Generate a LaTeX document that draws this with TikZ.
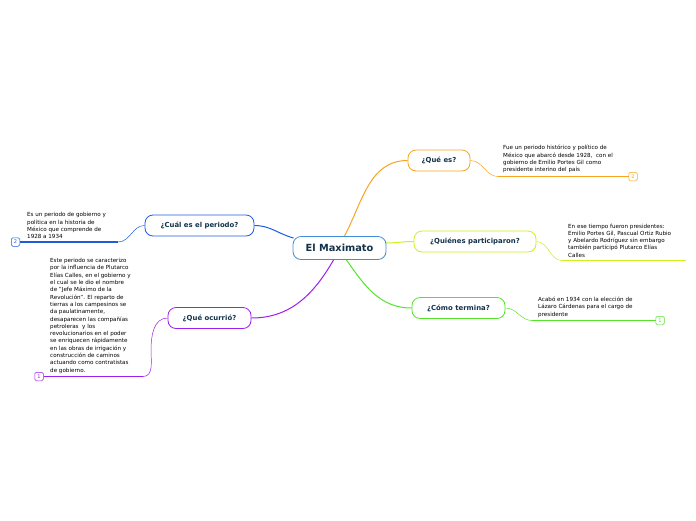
\documentclass[tikz,border=0pt]{standalone}
\usepackage{fontspec}
\setmainfont{DejaVu Sans}
\usetikzlibrary{positioning}
\definecolor{corange}{HTML}{F7A51E}
\definecolor{cyellow}{HTML}{CFEF1E}
\definecolor{cgreen}{HTML}{55E22A}
\definecolor{cblue}{HTML}{1F5BE0}
\definecolor{cpurple}{HTML}{9E1EEC}
\definecolor{cmain}{HTML}{3F8FD6}
\definecolor{ctitle}{HTML}{13324A}
\tikzset{
    maintopic/.style={draw=cmain, line width=0.8pt, fill=white, rounded corners=8pt,
        minimum width=93pt, minimum height=23pt, text=ctitle,
        font=\fontsize{9.8}{11}\selectfont\bfseries},
    topic/.style={draw=#1, line width=0.8pt, fill=white, rounded corners=8pt,
        minimum height=21pt, inner xsep=9pt, text=ctitle,
        font=\fontsize{6.9}{8}\selectfont\bfseries},
    leaf/.style={align=left, inner sep=0pt, text=black,
        font=\fontsize{5.6}{7.3}\selectfont},
    numbox/.style={draw=#1, fill=white, rounded corners=1.5pt, line width=0.5pt,
        minimum size=8.5pt, inner sep=0pt, text=#1, font=\fontsize{5}{5}\selectfont},
    underline/.style={#1, line width=1.6pt},
    link/.style={#1, line width=1pt},
}
\begin{document}
\begin{tikzpicture}[x=1pt,y=-1pt]
    \useasboundingbox (0,0) rectangle (696,520);
    % branches
    \node[topic=corange, minimum width=62pt] (quees) at (439,160.5) {¿Qué es?};
    \node[topic=cyellow, minimum width=122pt] (quienes) at (475,241.5) {¿Quiénes participaron?};
    \node[topic=cgreen, minimum width=93pt] (termina) at (458.5,308) {¿Cómo termina?};
    \node[topic=cblue, minimum width=109pt] (periodo) at (199.5,225.5) {¿Cuál es el periodo?};
    \node[topic=cpurple, minimum width=83pt] (ocurrio) at (209.5,318) {¿Qué ocurrió?};
    \coordinate (mainc) at (339.5,248);
    % links from main
    \draw[link=corange] (mainc) ++(5,-12) coordinate (mo) to[out=62,in=180] (quees.west);
    \draw[link=cyellow] (mainc) ++(46,-5) coordinate (my) to[out=0,in=180] (quienes.west);
    \draw[link=cgreen] (mainc) ++(7,12) coordinate (mg) to[out=-55,in=180] (termina.west);
    \draw[link=cblue] (mainc) ++(-46,-10) coordinate (mb) to[out=165,in=0] (periodo.east);
    \draw[link=cpurple] (mainc) ++(-6,12) coordinate (mp) to[out=-120,in=0] (ocurrio.east);
    % main topic
    \node[maintopic] (main) at (mainc) {El Maximato};
    % leaves
    \coordinate (qe1) at (498,176.5);
    \node[numbox=corange] (qe2) at (633,176.5) {2};
    \draw[link=corange, line width=0.5pt] (quees.east) to[out=0,in=180] (qe1);
    \draw[underline=corange] (qe1) -- (qe2.west);
    \node[leaf, anchor=south west] at (503,173) {Fue un periodo histórico y político de\\México que abarcó desde 1928,~ con el\\gobierno de Emilio Portes Gil como\\presidente interino del país};

    \coordinate (qp1) at (562,260.5);
    \coordinate (qp2) at (686,260.5);
    \draw[link=cyellow, line width=0.5pt] (quienes.east) to[out=0,in=180] (qp1);
    \draw[underline=cyellow] (qp1) -- (qp2);
    \node[leaf, anchor=south west] at (568,257.5) {En ese tiempo fueron presidentes:\\Emilio Portes Gil, Pascual Ortiz Rubio\\y Abelardo Rodríguez sin embargo\\también participó Plutarco Elías\\Calles};

    \coordinate (ct1) at (532,320.5);
    \node[numbox=cgreen] (ct2) at (660,320.5) {1};
    \draw[link=cgreen, line width=0.5pt] (termina.east) to[out=0,in=180] (ct1);
    \draw[underline=cgreen] (ct1) -- (ct2.west);
    \node[leaf, anchor=south west] at (538,317.5) {Acabó en 1934 con la elección de\\Lázaro Cárdenas para el cargo de\\presidente};

    \coordinate (cp1) at (118,242);
    \node[numbox=cblue] (cp2) at (15.5,242) {2};
    \draw[link=cblue, line width=0.5pt] (periodo.west) to[out=180,in=0] (cp1);
    \draw[underline=cblue] (cp1) -- (cp2.east);
    \node[leaf, anchor=south west] at (27,239) {Es un periodo de gobierno y\\política en la historia de\\México que comprende de\\1928 a 1934};

    \coordinate (oc1) at (143,376.5);
    \node[numbox=cpurple] (oc2) at (39,376.5) {1};
    \draw[link=cpurple, line width=0.5pt] (ocurrio.west) to[out=180,in=90] (151,350) to[out=-90,in=0] (oc1);
    \draw[underline=cpurple] (oc1) -- (oc2.east);
    \node[leaf, anchor=south west] at (50,373.5) {Este periodo se caracterizo\\por la influencia de Plutarco\\Elías Calles, en el gobierno y\\el cual se le dio el nombre\\de "Jefe Máximo de la\\Revolución". El reparto de\\tierras a los campesinos se\\da paulatinamente,\\desaparecen las compañías\\petroleras~ y los\\revolucionarios en el poder\\se enriquecen rápidamente\\en las obras de irrigación y\\construcción de caminos\\actuando como contratistas\\de gobierno.};
\end{tikzpicture}
\end{document}
